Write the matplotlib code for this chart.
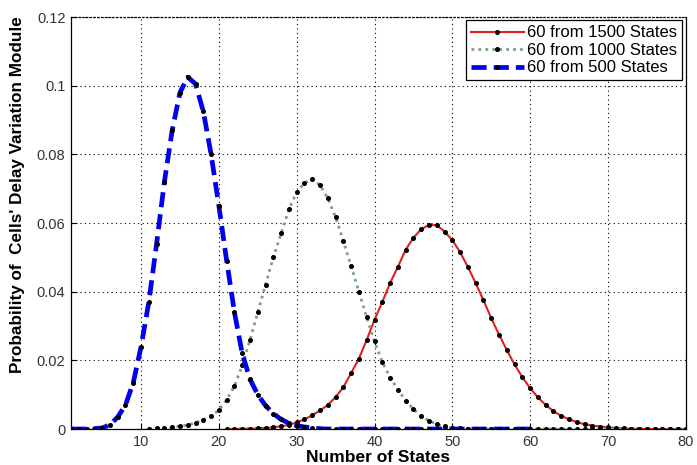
import numpy as np
import matplotlib
matplotlib.use("Agg")
import matplotlib.pyplot as plt
from matplotlib.ticker import FuncFormatter

plt.rcParams['font.family'] = ['Liberation Sans', 'DejaVu Sans']

# ----------------------------
# Data
# ----------------------------
x_500 = np.arange(1, 61)
p_500 = [0, 0, 0, 0.0001, 0.0003, 0.0012, 0.0035, 0.0070, 0.0135, 0.0240,
         0.0370, 0.0540, 0.0720, 0.0870, 0.0980, 0.1025, 0.1005, 0.0925, 0.0800, 0.0650,
         0.0490, 0.0340, 0.0220, 0.0145, 0.0100, 0.0068, 0.0045, 0.0028, 0.0017, 0.0010,
         0.0006, 0.0003, 0.0001] + [0] * 27

x_1000 = np.arange(11, 81)
p_1000 = [0.0001, 0.0002, 0.0003, 0.0005, 0.0008, 0.0012, 0.0018, 0.0027, 0.0038, 0.0055,
          0.0085, 0.0125, 0.0185, 0.0260, 0.0340, 0.0420, 0.0500, 0.0570, 0.0640, 0.0690,
          0.0716, 0.0728, 0.0710, 0.0672, 0.0617, 0.0547, 0.0474, 0.0400, 0.0325, 0.0255,
          0.0195, 0.0150, 0.0115, 0.0083, 0.0058, 0.0038, 0.0024, 0.0014, 0.0008, 0.0004,
          0.0002, 0.0001] + [0] * 28

x_1500 = np.arange(21, 81)
p_1500 = [0, 0, 0.0001, 0.0001, 0.0002, 0.0003, 0.0005, 0.0008, 0.0012, 0.0019,
          0.0028, 0.0040, 0.0054, 0.0070, 0.0093, 0.0122, 0.0163, 0.0205, 0.0260, 0.0318,
          0.0370, 0.0425, 0.0472, 0.0522, 0.0557, 0.0582, 0.0594, 0.0594, 0.0575, 0.0550,
          0.0515, 0.0472, 0.0425, 0.0375, 0.0323, 0.0275, 0.0230, 0.0188, 0.0151, 0.0119,
          0.0092, 0.0070, 0.0052, 0.0038, 0.0028, 0.0020, 0.0014, 0.0010, 0.0007, 0.0005,
          0.0003, 0.0002, 0.0001, 0.0001] + [0] * 6

labels = ["60 from 1500 States", "60 from 1000 States", "60 from 500 States"]
x_ticks = [10, 20, 30, 40, 50, 60, 70, 80]
y_ticks = [0, 0.02, 0.04, 0.06, 0.08, 0.1, 0.12]

# ----------------------------
# Plot
# ----------------------------
fig = plt.figure(figsize=(6.97, 4.65), dpi=100)
ax = fig.add_axes([0.1019, 0.0774, 0.882, 0.886])

ax.plot(x_1500, p_1500, color="#e02020", lw=1.5, ls="-",
        marker="o", ms=2.6, mfc="black", mec="black", label=labels[0], zorder=3)
ax.plot(x_1000, p_1000, color="#7f9f7f", lw=2.0, ls=(0, (1, 1.5)),
        marker="o", ms=2.6, mfc="black", mec="black", label=labels[1], zorder=3)
ax.plot(x_500, p_500, color="#0000ee", lw=3.4, ls=(0, (3.2, 1.5)),
        marker="o", ms=2.6, mfc="black", mec="black", label=labels[2], zorder=4)

ax.set_xlim(1, 80)
ax.set_ylim(0, 0.12)
ax.set_xticks(x_ticks)
ax.set_yticks(y_ticks)
ax.yaxis.set_major_formatter(FuncFormatter(lambda v, p: "%g" % round(v, 3)))
ax.tick_params(direction="in", length=4, labelsize=10.5, labelcolor="#333333", pad=4)

ax.grid(True, ls=(0, (1, 3)), color="black", lw=0.8)
ax.spines["top"].set_linestyle((0, (1, 2)))
for s in ax.spines.values():
    s.set_linewidth(0.9)

ax.set_xlabel("Number of States", fontsize=12.5, fontweight="bold", labelpad=1)
ax.set_ylabel("Probability of  Cells' Delay Variation Module", fontsize=12.3, fontweight="bold")
ax.yaxis.set_label_coords(-0.075, 0.57)

leg = ax.legend(loc="upper right", fontsize=12, fancybox=False, framealpha=1,
                edgecolor="black", handlelength=3.2, handletextpad=0.2,
                borderaxespad=0.2, borderpad=0.3, labelspacing=0.15)
leg.get_frame().set_linewidth(0.9)

fig.savefig("out.png", dpi=100)
